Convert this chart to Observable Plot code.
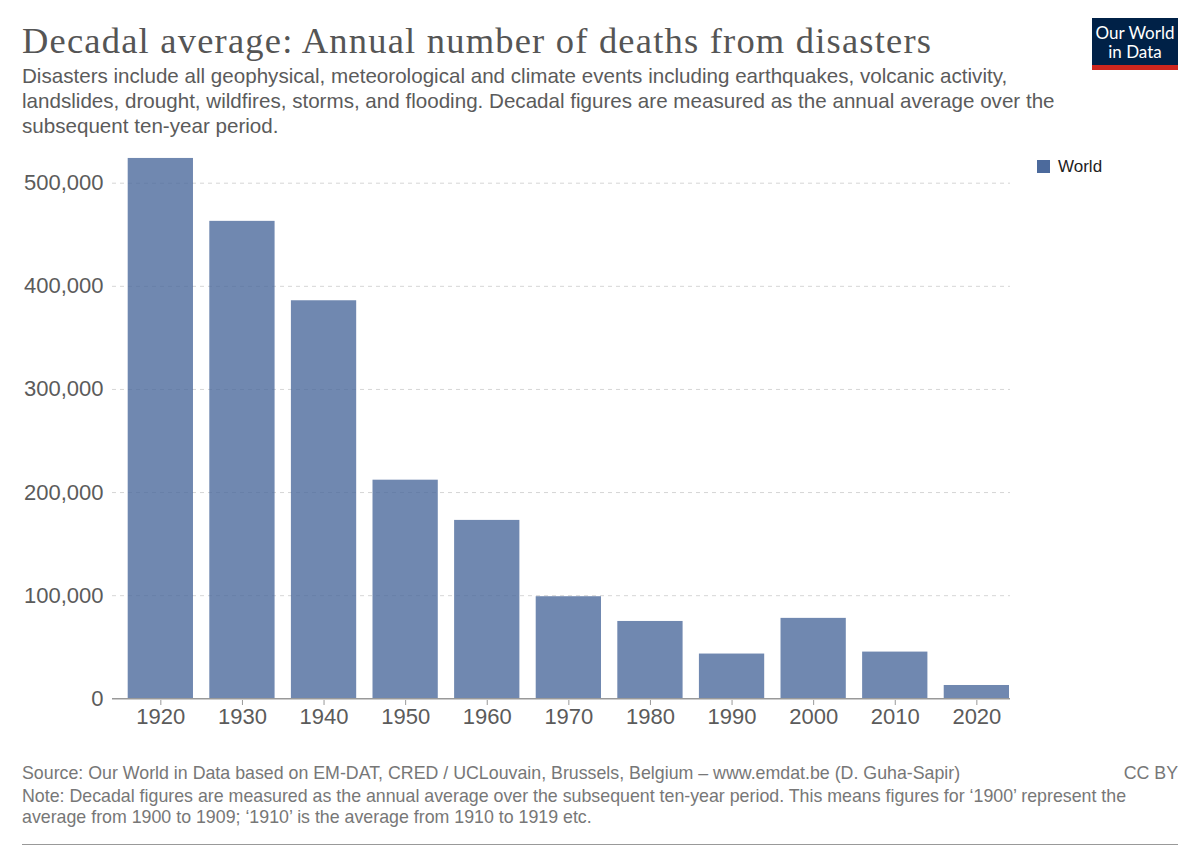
<!DOCTYPE html>
<html>
<head>
<meta charset="utf-8">
<script src="https://cdn.jsdelivr.net/npm/d3@7"></script>
<script src="https://cdn.jsdelivr.net/npm/@observablehq/plot@0.6"></script>
<style>
  html, body { margin: 0; padding: 0; background: #fff; }
  #page { position: relative; width: 1200px; height: 847px; overflow: hidden; font-family: "Liberation Sans", Arial, sans-serif; }
  .abs { position: absolute; white-space: nowrap; }
  #title { left: 22px; top: 21px; font-family: "Liberation Serif", "DejaVu Serif", serif; font-size: 36.5px; letter-spacing: 1.2px; color: #555; line-height: 40px; }
  #subtitle { left: 22px; top: 63px; font-size: 20.6px; line-height: 25px; color: #5b5b5b; }
  #logo { left: 1092px; top: 18px; width: 86px; height: 47px; background: #002147; border-bottom: 5px solid #ce261e; color: #fff; font-family: Lato, "Noto Sans", sans-serif; font-size: 17px; line-height: 19px; text-align: center; box-sizing: content-box; }
  #logo div { padding-top: 5px; }
  #legend { left: 1037px; top: 157px; font-size: 17px; color: #222; line-height: 20px; }
  #legend span.sw { display: inline-block; width: 13px; height: 13px; background: #4C6A9C; vertical-align: -1px; margin-right: 8px; }
  #chart { position: absolute; left: 0; top: 140px; }
  #source { left: 22px; top: 762px; font-size: 17.8px; color: #777; line-height: 22px; }
  #ccby { right: 22px; top: 762px; font-size: 17.8px; color: #777; line-height: 22px; }
  #note { left: 22px; top: 786px; font-size: 17.8px; color: #777; line-height: 21px; }
  #bottomline { left: 22px; top: 844px; width: 1156px; height: 1px; background: #999; }
</style>
</head>
<body>
<div id="page">
  <div id="title" class="abs">Decadal average: Annual number of deaths from disasters</div>
  <div id="subtitle" class="abs">Disasters include all geophysical, meteorological and climate events including earthquakes, volcanic activity,<br>landslides, drought, wildfires, storms, and flooding. Decadal figures are measured as the annual average over the<br>subsequent ten-year period.</div>
  <div id="logo" class="abs"><div>Our World<br>in Data</div></div>
  <div id="legend" class="abs"><span class="sw"></span>World</div>
  <div id="chart"></div>
  <div id="source" class="abs">Source: Our World in Data based on EM-DAT, CRED / UCLouvain, Brussels, Belgium – www.emdat.be (D. Guha-Sapir)</div>
  <div id="ccby" class="abs">CC BY</div>
  <div id="note" class="abs">Note: Decadal figures are measured as the annual average over the subsequent ten-year period. This means figures for ‘1900’ represent the<br>average from 1900 to 1909; ‘1910’ is the average from 1910 to 1919 etc.</div>
  <div id="bottomline" class="abs"></div>
</div>
<script>
const decades = ["1920", "1930", "1940", "1950", "1960", "1970", "1980", "1990", "2000", "2010", "2020"];
const deaths = [524000, 463000, 386000, 212000, 173000, 99000, 75000, 43400, 78000, 45300, 12900];
const yTicks = [0, 100000, 200000, 300000, 400000, 500000];
const gridTicks = [100000, 200000, 300000, 400000, 500000];

const data = decades.map((d, i) => ({decade: d, deaths: deaths[i]}));

const chart = Plot.plot({
  width: 1200,
  height: 610,
  marginLeft: 112,
  marginRight: 190,
  marginTop: 0,
  marginBottom: 50,
  style: {fontFamily: "'Liberation Sans', Arial, sans-serif", fontSize: "22px", color: "#5b5b5b", background: "transparent"},
  x: {domain: decades, range: [127.7, 1009], paddingInner: 0.2, paddingOuter: 0, round: false, label: null},
  y: {domain: [0, 500000], range: [558.3, 42.7], label: null},
  marks: [
    Plot.ruleY(gridTicks, {stroke: "#d6d6d6", strokeDasharray: "4,4"}),
    Plot.barY(data, {x: "decade", y: "deaths", fill: "#4C6A9C", fillOpacity: 0.8}),
    Plot.ruleY([0], {stroke: "#999", strokeWidth: 1.5}),
    Plot.axisX({tickSize: 5, tickPadding: 3, stroke: "#999", fontSize: 22, label: null}),
    Plot.axisY({ticks: yTicks, tickSize: 0, tickPadding: 9, tickFormat: d3.format(","), fontSize: 22, label: null})
  ]
});
document.getElementById("chart").appendChild(chart);
</script>
</body>
</html>
